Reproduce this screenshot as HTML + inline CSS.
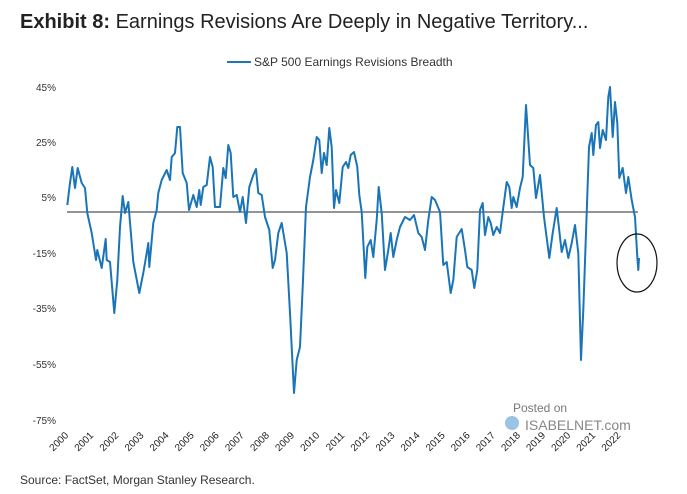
<!DOCTYPE html>
<html><head><meta charset="utf-8"><style>
html,body{margin:0;padding:0;background:#fff;}
svg{display:block;font-family:"Liberation Sans",sans-serif;}
</style></head><body>
<svg width="687" height="494" viewBox="0 0 687 494">
<text x="20" y="28" font-size="20" fill="#222"><tspan font-weight="bold">Exhibit 8:</tspan>  Earnings Revisions Are Deeply in Negative Territory...</text>
<line x1="227" y1="62" x2="251" y2="62" stroke="#1f77b4" stroke-width="2"/>
<text x="254" y="66" font-size="12" fill="#333">S&amp;P 500 Earnings Revisions Breadth</text>
<g font-size="10" fill="#333" text-anchor="end">
<text x="56" y="91">45%</text>
<text x="56" y="146">25%</text>
<text x="56" y="201">5%</text>
<text x="56" y="257">-15%</text>
<text x="56" y="312">-35%</text>
<text x="56" y="368">-55%</text>
<text x="56" y="424">-75%</text>
</g>
<line x1="67" y1="212" x2="638" y2="212" stroke="#555" stroke-width="1.3"/>
<polyline fill="none" stroke="#1a75b8" stroke-width="2" stroke-linejoin="round" points="
67.3,205 70,183 72.3,167 75,188 77.7,168 81.7,183 85,188 87.3,213 91.7,233 96,260 97.3,250 101.7,268 105.7,239 106.7,260 110,262 114.3,313 117.3,280 120,227 122.7,196 125,213 128.3,202 133.3,262 139.3,293 143.3,273 146.7,253 148.3,243 149.3,267 153.3,223 156.7,210 158.3,193 161.7,180 166.7,170 170,180 171.7,157 175,153 177.3,127 180,127 182.7,173 186.7,183 189,210 193.3,195 196.7,207 199.3,190 200.7,205 203.3,187 206.7,185 210,157 212.7,167 215,207 220,207 223.3,168 225.7,178 228.3,145 230.7,153 233.3,197 236.7,195 240,212 242.7,197 246,223 249.3,187 253.3,175 256,169 258.3,193 261.7,195 265,217 269.3,230 272.7,268 275,260 278.3,233 281.7,223 286.7,253 290,313 294,393 296.7,360 300,347 302.7,287 306,207 310,177 313.3,160 316.7,137 319.3,140 321.7,173 324,153 326.7,165 329.3,128 331.7,147 334,208 336,190 339.3,203 342.7,167 346,162 348.3,168 350.7,155 354,152 357.3,167 359.3,195 361.7,212 365.3,278 367.3,247 370.7,240 373.3,257 376.7,220 378.7,187 381.7,213 385,270 388.3,250 390.7,233 393.3,257 396.7,240 400,227 405,217 410,220 414,215 418.3,233 421.7,237 425,250 428.3,220 431.7,197 435,200 440,212 443.3,265 446.7,262 450.7,293 453.3,280 456.7,237 461.7,229 465,250 467.3,267 471.7,270 474.3,288 477.3,270 480,210 482.7,203 485,235 488.3,217 490.7,223 493.3,235 496.7,227 500,233 502.7,212 506.7,182 509.3,187 511.7,208 513.3,197 516.7,207 520,188 522.7,177 526,105 530,165 533.3,168 536,198 540,175 544,217 549.3,258 552.7,233 556.7,208 561.7,252 565,240 568.3,258 571.7,243 575,225 578.3,253 581,360 583.3,310 586.7,213 589,147 591.7,133 593.3,155 596,125 598.3,122 600,148 602.7,130 606,140 608.3,97 610,87 612.7,137 615,102 617.3,123 619.3,178 622.7,168 626,193 628.3,177 631.7,200 635,217 637.3,257 638.3,270 639,258"/>
<ellipse cx="637" cy="263" rx="20" ry="29" fill="none" stroke="#111" stroke-width="1.2"/>
<text x="513" y="412" font-size="12" fill="#777">Posted on</text>
<circle cx="512" cy="423" r="7" fill="#7fb5de" opacity="0.8"/>
<text x="525" y="430" font-size="14" fill="#888">ISABELNET.com</text>
<g font-size="10" fill="#222" text-anchor="end">
<text transform="translate(69,436) rotate(-45)">2000</text>
<text transform="translate(94.1,436) rotate(-45)">2001</text>
<text transform="translate(119.2,436) rotate(-45)">2002</text>
<text transform="translate(144.3,436) rotate(-45)">2003</text>
<text transform="translate(169.4,436) rotate(-45)">2004</text>
<text transform="translate(194.5,436) rotate(-45)">2005</text>
<text transform="translate(219.6,436) rotate(-45)">2006</text>
<text transform="translate(244.7,436) rotate(-45)">2007</text>
<text transform="translate(269.8,436) rotate(-45)">2008</text>
<text transform="translate(294.9,436) rotate(-45)">2009</text>
<text transform="translate(320,436) rotate(-45)">2010</text>
<text transform="translate(345.1,436) rotate(-45)">2011</text>
<text transform="translate(370.2,436) rotate(-45)">2012</text>
<text transform="translate(395.3,436) rotate(-45)">2013</text>
<text transform="translate(420.4,436) rotate(-45)">2014</text>
<text transform="translate(445.5,436) rotate(-45)">2015</text>
<text transform="translate(470.6,436) rotate(-45)">2016</text>
<text transform="translate(495.7,436) rotate(-45)">2017</text>
<text transform="translate(520.8,436) rotate(-45)">2018</text>
<text transform="translate(545.9,436) rotate(-45)">2019</text>
<text transform="translate(571,436) rotate(-45)">2020</text>
<text transform="translate(596.1,436) rotate(-45)">2021</text>
<text transform="translate(621.2,436) rotate(-45)">2022</text>
</g>
<text x="20" y="484" font-size="12" fill="#333">Source: FactSet, Morgan Stanley Research.</text>
</svg>
</body></html>
